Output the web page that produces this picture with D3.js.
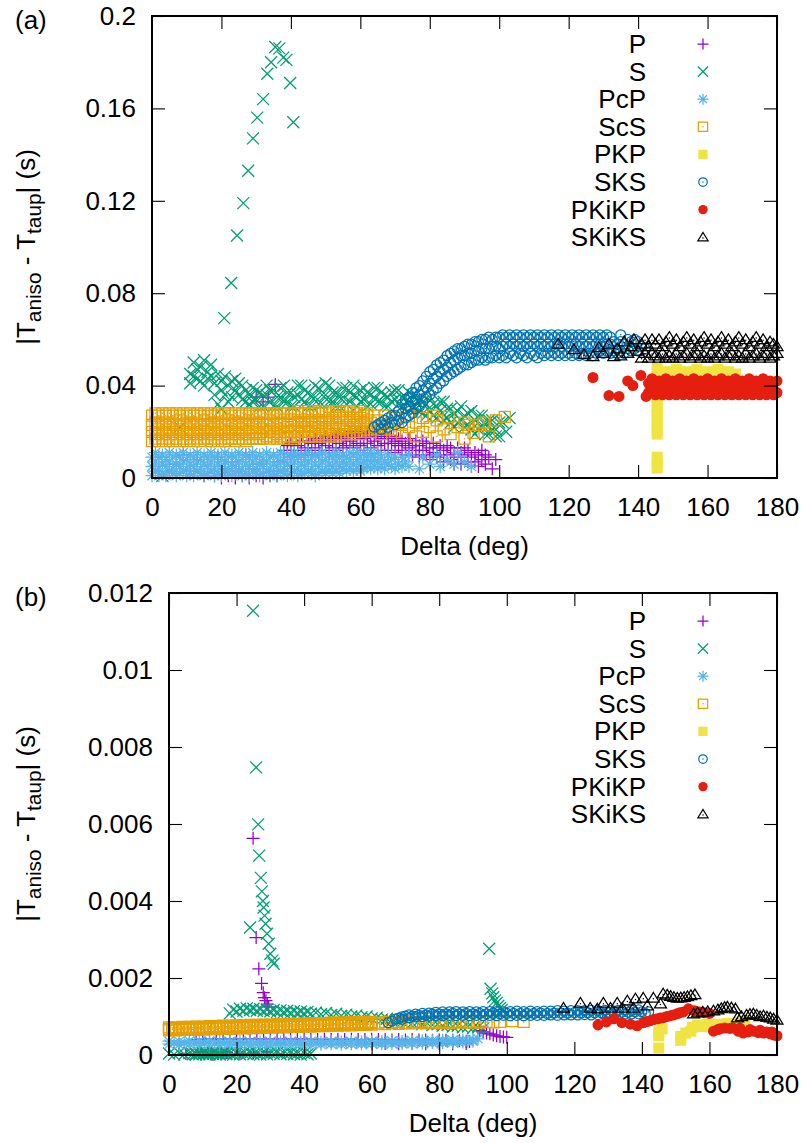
<!DOCTYPE html>
<html><head><meta charset="utf-8">
<script src="https://cdn.jsdelivr.net/npm/d3@7"></script>
<style>body{margin:0;background:#fff}svg{display:block}text{font-family:"Liberation Sans",Arial,Helvetica,sans-serif;white-space:pre}</style>
</head><body><svg id="c" width="807" height="1143"></svg>
<script>
// ---------- data (rows: [delta, value, value, ...]) ----------
const seriesNames = ["P","S","PcP","ScS","PKP","SKS","PKiKP","SKiKS"];
const xTicks = [0,20,40,60,80,100,120,140,160,180];
const xTickLabels = ["0","20","40","60","80","100","120","140","160","180"];
const yTicksA = [0,0.04,0.08,0.12,0.16,0.2];
const yTickLabelsA = ["0","0.04","0.08","0.12","0.16","0.2"];
const yTicksB = [0,0.002,0.004,0.006,0.008,0.01,0.012];
const yTickLabelsB = ["0","0.002","0.004","0.006","0.008","0.01","0.012"];

// ----- panel (a) -----
const P_a = [[1,.005],[3,.009],[5,.002],[7,.006],[9,.010],[11,.003],[13,.008],[15,.001],[16,.005],[18,.001],[19,.009],[20,0],[21,.004],[22,.001],[23,.007],[24,0],[25,.003],[26,.001],[27,.010],[28,0],[29,.004],[30,.001,.035],[31,.006],[32,0,.033],[33,.002],[33.5,.035],[34,.001],[35,.003],[35.5,.0405],[36,.001],[37,.007],
[38,.008,.012],[39,.011,.014],[40,.009,.015],[41,.012,.010],[42,.014,.009],[43,.011,.016],[44,.013,.010],[45,.016,.012],[46,.010,.015],[47,.013,.017],[48,.011,.015],[49,.016,.012],[50,.014,.018],[51,.011,.016],[52,.017,.013],[53,.012,.018],[54,.015,.019],[55,.013,.017],[56,.018,.014],[57,.016,.020],[58,.013,.018],[59,.019,.015],[60,.014,.020],[61,.017,.012],[62,.019,.015],[63,.013,.018],[64,.016,.020],[65,.014,.018],[66,.017,.012],[67,.019,.015],[68,.012,.017],[69,.015,.018],[70,.011,.016],[71,.014,.017],[72,.012,.016],[73,.015,.010],[74,.013,.017],[75,.010,.014],[76,.016,.012],[77,.009,.014],[78,.012,.016],[79,.010,.015],[80,.013,.008],[81,.011,.015],[82,.009,.013],[83,.014,.010],[84,.007,.012],[85,.010,.014],[86,.008,.013],[87,.011,.006],[88,.009,.013],[89,.006,.011],[90,.010,.013],[91,.007,.012],[92,.009,.005],[93,.011,.007],[94,.005,.010],[95,.008,.012],[96,.006,.010],[97,.009],[98,.004],[99,.008]];
const S_a = [[3,.001],[8,.022],[11,.045,.041],[12,.050,.044],[13,.043,.047],[14,.048,.042],[15,.051,.040],[16,.046,.043],[17,.044,.049],[18,.041,.036],[19,.045,.032],[20,.042,.030,.038],[21,.044,.036],[22,.040,.033],[23,.042,.035],[24,.038,.043],[25,.036,.041],[26,.040,.034],[27,.038,.033],[28,.036,.032],
[20.8,.0692],[22.8,.0844],[24.5,.105],[26.3,.119],[27.7,.133],[29.1,.147],[30.3,.156],[32,.164],[33.2,.175],[34.3,.180],[35.5,.1866],[36.7,.186],[37.8,.182],[38.7,.181],[39.8,.171],[40.7,.154],
[29,.039,.033],[30,.034,.038],[31,.037,.031],[32,.031,.036],[33,.036,.040],[34,.033,.038],[35,.038,.031],[36,.031,.035],[37,.035,.039],[38,.040,.033],[39,.033,.037],[40,.037,.031],[41,.031,.035],[42,.036,.040],[43,.040,.034],[44,.033,.038],[45,.037,.031],[46,.031,.035],[47,.035,.040],[48,.039,.032],[49,.032,.036],[50,.036,.041],[51,.040,.033],[52,.033,.037],[53,.037,.031],[54,.031,.035],[55,.035,.039],[56,.039,.032],[57,.033,.037],[58,.036,.040],[59,.031,.035],[60,.038,.033],[61,.034,.039],[62,.037,.031],[63,.032,.036],[64,.035,.039],[65,.039,.033],[66,.033,.037],[67,.036,.031],[68,.031,.035],[69,.037,.033],[70,.034,.038],[71,.038,.032],[72,.031,.035],[73,.035,.030],[74,.033,.037],[75,.036,.030],
[76,.030,.034],[77,.034,.029],[78,.028,.033],[79,.032,.027],[80,.035,.029],[81,.027,.032],[82,.031,.026],[83,.029,.033],[84,.033,.025],[85,.026,.030],[86,.030,.024],[87,.028,.022],[88,.024,.029],[89,.031,.025],[90,.027,.022],[91,.023,.028],[92,.029,.021],[93,.025,.019],[94,.021,.027],[95,.027,.023],[96,.023,.019],[97,.019,.025],[98,.025,.021],[99,.021,.018],[100,.018,.024],[101,.024],[102,.020],[103,.026]];
const PcP_a = [[0,.001,.005,.009],[1,.003,.007,.011],[2,.001,.004,.009],[3,.002,.006,.010],[4,.001,.005,.008],[5,.003,.007,.011],[6,.002,.004,.009],[7,.001,.006,.010],[8,.002,.005,.009],[9,.003,.007,.011],[10,.001,.004,.008],[11,.002,.006,.010],[12,.001,.005,.009],[13,.003,.007,.011],[14,.002,.004,.008],[15,.001,.006,.010],[16,.002,.005,.009],[17,.003,.007,.011],[18,.001,.004,.009],[19,.002,.006,.010],[20,.001,.005,.008],[21,.003,.007,.011],[22,.002,.004,.009],[23,.001,.006,.010],[24,.002,.005,.009],[25,.003,.007,.011],[26,.001,.004,.008],[27,.002,.006,.010],[28,.001,.005,.009],[29,.003,.007,.011],[30,.002,.004,.009],[31,.001,.006,.010],[32,.002,.005,.008],[33,.003,.007,.011],[34,.001,.004,.009],[35,.002,.006,.010],[36,.001,.005,.009],[37,.003,.007,.011],[38,.002,.004,.008],[39,.001,.006,.010],[40,.002,.005,.009],[41,.003,.007,.011],[42,.001,.004,.009],[43,.002,.006,.010],[44,.002,.005,.008],[45,.003,.007,.011],[46,.002,.004,.009],[47,.001,.006,.010],[48,.002,.005,.009],[49,.003,.007,.011],[50,.002,.004,.008],[51,.003,.006,.010],[52,.002,.005,.009],[53,.003,.007,.011],[54,.002,.005,.009],[55,.004,.007,.010],[56,.003,.006,.009],[57,.004,.008,.011],[58,.003,.006,.010],[59,.004,.008,.011],[60,.003,.006,.009],[61,.004,.007,.011],[62,.005,.008,.010],[63,.004,.007,.011],[64,.005,.008,.010],[65,.004,.007,.011],[66,.005,.009],[67,.004,.007],[68,.006,.010],[69,.005,.008],[70,.004,.009],[71,.006],[72,.005,.009],[73,.007],[74,.005,.010],[77,.004],[78,.009],[80,.006],[82,.010],[83,.005],[85,.008],[87,.006],[88,.011],[90,.007],[92,.005]];
const ScS_a = [[0,.016,.020,.023,.027],[1,.017,.019,.024,.028],[2,.016,.021,.024,.027],[3,.017,.020,.023,.028],[4,.016,.019,.024,.027],[5,.017,.021,.023,.028],[6,.016,.020,.024,.027],[7,.017,.019,.023,.028],[8,.016,.021,.025,.027],[9,.017,.020,.023,.028],[10,.016,.019,.024,.027],[11,.017,.021,.024,.028],[12,.016,.020,.023,.027],[13,.017,.019,.024,.028],[14,.016,.021,.023,.027],[15,.017,.020,.025,.028],[16,.017,.019,.023,.027],[17,.016,.021,.024,.028],[18,.017,.020,.024,.027],[19,.016,.019,.023,.028],[20,.017,.021,.024,.027],[21,.016,.020,.023,.028],[22,.017,.019,.025,.028],[23,.017,.021,.024,.027],[24,.016,.020,.023,.028],[25,.017,.019,.024,.027],[26,.017,.021,.024,.028],[27,.016,.020,.023,.028],[28,.017,.019,.025,.027],[29,.017,.021,.024,.028],[30,.017,.020,.023,.028],[31,.017,.019,.024,.027],[32,.017,.021,.024,.028],[33,.018,.020,.023,.028],[34,.017,.021,.025,.028],[35,.018,.020,.024,.027],[36,.017,.019,.023,.028],[37,.018,.021,.024,.028],[38,.017,.020,.025,.028],[39,.018,.022,.024,.028],[40,.018,.020,.023,.028],[41,.017,.021,.025,.028],[42,.018,.020,.024,.029],[43,.018,.022,.024,.028],[44,.018,.021,.025,.028],[45,.018,.020,.024,.029],[46,.018,.022,.025,.028],[47,.018,.021,.024,.029],[48,.019,.022,.025,.028],[49,.018,.021,.024,.029],[50,.019,.022,.025,.029],[51,.018,.021,.026,.028],[52,.019,.022,.025,.029],[53,.018,.023,.024,.029],[54,.019,.022,.026,.029],[55,.019,.021,.025,.029],[56,.019,.023,.026,.029],[57,.020,.022,.025,.029],[58,.019,.023,.026,.029],[59,.020,.022,.025,.028],[60,.019,.023,.026,.029],[61,.020,.024,.027],[62,.021,.025,.028],[63,.020,.024],[64,.022,.027],[65,.021,.025],[66,.019,.023],[67,.022,.027],[68,.021],[69,.024],[70,.020,.026],[72,.019,.023],[74,.022,.027],[76,.018,.024],[78,.020,.026],[80,.022],[81,.027],[82,.018,.025],[84,.021],[85.4,.0265],[86,.019],[88,.022],[90,.017,.024],[91.2,.023],[92.6,.0195],[94,.023],[95.5,.024],[97,.018],[99,.025],[101.6,.0265]];
const PKP_a = [[145.5,.0043,.0065,.009,.019,.021,.023,.025,.027,.029,.031,.033,.035,.037,.039,.041,.043,.045,.0475],[148,.046,.042],[150,.039],[151,.047,.043],[154,.046,.041],[157,.047,.043],[158,.038],[160,.046,.042],[163,.047,.043],[166,.046],[168,.045]];
const SKS_a = [[64,.022],[65,.023],[66,.021,.024],[67,.023,.025],[68,.022,.026],[69,.024,.027],[70,.023,.027],[71,.025,.029],[72,.024,.028,.032],[73,.026,.030,.034],[74,.027,.031,.035],[75,.028,.033,.037],[76,.030,.034,.039],[77,.031,.036,.040],[78,.033,.038,.042],[79,.035,.039,.044],[80,.036,.041,.046],[81,.038,.043,.047],[82,.039,.044,.049],[83,.041,.046,.050],[84,.042,.047,.051],[85,.044,.048,.053],[86,.045,.050,.054],[87,.046,.051,.055],[88,.047,.052,.056],[89,.048,.053,.056],[90,.049,.053,.057],[91,.049,.054,.058],[92,.050,.054,.058],[93,.051,.055,.059],[94,.051,.055,.059],[95,.052,.056,.060],[96,.051,.056,.060],[97,.052,.056,.061],[98,.052,.057,.060],[99,.053,.057,.061],[100,.052,.056,.061],[101,.053,.057,.062],[102,.052,.058,.061],[103,.054,.057,.062],[104,.053,.058,.061],[105,.052,.057,.062],[106,.054,.058,.061],[107,.053,.057,.062],[108,.052,.058,.061],[109,.054,.057,.062],[110,.053,.058,.061],[111,.052,.057,.062],[112,.054,.058,.061],[113,.053,.057,.062],[114,.054,.058,.061],[115,.053,.057,.062],[116,.054,.058,.061],[117,.053,.058,.062],[118,.054,.057,.061],[119,.053,.058,.062],[120,.054,.057,.061],[121,.053,.058,.062],[122,.054,.058,.061],[123,.053,.057,.062],[124,.054,.058,.061],[125,.053,.057,.062],[126,.054,.058,.061],[127,.053,.057,.062],[128,.054,.058,.061],[129,.055,.058,.062],[130,.054,.057,.061],[131,.055,.058,.062],[132,.054,.058,.061],[133,.055,.059],[134,.054,.058],[135,.055,.059,.062],[136,.054,.058],[137,.056,.060],[138,.055,.059],[139,.056,.060],[140,.055,.059],[141,.057],[142,.056]];
const PKiKP_a = [[127,.0435],[131.6,.0357],[134.5,.0353],[137,.042],[138.5,.040],[140.8,.0444],[142.3,.0353],[143,.037,.041],[144,.039,.043],[145,.036,.040],[146,.038,.042],[147,.036,.041],[148,.040,.043],[149,.036,.039],[150,.038,.042],[151,.036,.041],[152,.039,.043],[153,.036,.040],[154,.038,.042],[155,.036,.041],[156,.040,.043],[157,.036,.039],[158,.038,.042],[159,.036,.041],[160,.039,.043],[161,.036,.040],[162,.038,.042],[163,.036,.041],[164,.039,.043],[165,.036,.040],[166,.038,.042],[167,.036,.041],[168,.039,.043],[169,.036,.040],[170,.038,.042],[171,.036,.041],[172,.039,.043],[173,.036,.040],[174,.038,.042],[175,.036,.041],[176,.039,.043],[177,.036,.040],[178,.038,.042],[179,.036,.041],[180,.037,.042]];
const SKiKS_a = [[117,.058],[121.5,.0557],[124.4,.0535],[127,.0526],[128.7,.0566],[130,.054],[131.6,.058],[133,.0526],[134,.056],[135,.053],[136,.059],[137,.054],[138,.057],[138.8,.060],[140,.055],[141,.052,.058],[142,.054,.060],[143,.052,.057],[144,.054,.060],[145,.053,.058],[146,.052,.060],[147,.054,.057],[148,.052,.059],[149,.053,.061],[150,.052,.058],[151,.054,.060],[152,.052,.057],[153,.053,.059],[154,.054,.061],[155,.052,.058],[156,.053,.060],[157,.054,.057],[158,.052,.059],[159,.053,.061],[160,.052,.058],[161,.054,.060],[162,.052,.057],[163,.053,.059],[164,.054,.061],[165,.052,.058],[166,.053,.060],[167,.054,.057],[168,.052,.059],[169,.053,.061],[170,.052,.058],[171,.054,.060],[172,.052,.057],[173,.053,.059],[174,.054,.061],[175,.052,.058],[176,.053,.060],[177,.054,.057],[178,.052,.059],[179,.053,.058],[180,.054,.057]];

// ----- panel (b) -----
const P_b = [[5,.00004],[8,.0004],[9,.00008],[10,.00041],[12,.00042],[13,.00002],[14,.00041],[16,.00042],[17,.00006],[18,.00042],[20,.00041],[21,.00003],[22,.00042],[24,.00041],[24.9,.00563],[25,.00005],[25.8,.00305],[26,.00042],[26.6,.00224],[27.4,.00186],[27.9,.00162],[28,.00041],[28.3,.00149],[28.7,.00141],[29,.00008],[29.1,.00132],[29.5,.00125],[30,.00042],[32,.00041],[34,.00042],[36,.00041],[38,.00041],[40,.00042],[42,.00041],[44,.0004],[46,.00041],[48,.0004],[50,.00041],[52,.0004],[54,.00041],[56,.0004],[58,.0004],[60,.00041,.00029],[62,.0004],[64,.0004,.0003],[66,.00039],[68,.0004,.00029],[70,.00039],[72,.0004,.0003],[74,.00039],[76,.00039,.00029],[78,.00038],[80,.00039,.0003],[82,.00038],[84,.00038,.00029],[86,.00037],[88,.00036,.0003],[89,.00035],[92,.00063],[93,.0006],[94,.00057],[95,.00055],[96,.00052],[97,.0005],[98,.00048],[99,.00047],[100,.00046]];
const S_b = [[0,.00004],[1.5,.00001],[3,.00006],[4.5,.00002],[6,.00005],[7,.00002],[8,.00004,.00001],[9,.00006,.00002],[10,.00003,.00005],[11,.00001,.00006],[12,.00004,.00002],[13,.00006,.00003],[14,.00002,.00005],[15,.00004,.00001],[16,.00006,.00003],[17,.00002,.00005],[18,.00004,.00108],[19,.00001,.00118],[20,.00005,.00113],[21,.00002,.0012],[22,.00005,.00115],[23,.00003,.00121],[24,.00006,.00117,.00331],[24.9,.01154],[25,.00002,.0012],[25.8,.00747],[26,.00004,.00115],[26.4,.00599],[26.7,.00518],[27,.00001,.00119],[27.2,.0046],[27.5,.00425],[27.8,.0040],[28,.00005,.00383,.00114],[28.3,.00362],[28.6,.00341],[29,.00002,.00315,.00118],[29.5,.00289],[30,.00005,.00263,.00113],[30.6,.00245],[31,.00003,.00237,.00117],[32,.00006,.00112],[33,.00002,.00116],[34,.00005,.00111],[35,.00003,.00115],[36,.00006,.0011],[37,.00002,.00114],[38,.00004,.00109],[39,.00001,.00113],[40,.00005,.00108],[41,.00002,.00112],[42,.00004,.00107],[43.5,.0011],[45,.00106],[46.5,.00109],[48,.00104],[49.5,.00107],[51,.00102],[52.5,.00105],[54,.001],[55.5,.00103],[57,.00098],[58.5,.001],[60,.00095],[61.5,.00097],[63,.00092],[64.5,.00094],[66,.00089],[67.5,.00091],[69,.00086],[70.5,.00088],[72,.00083],[73.5,.00085],[75,.0008],[76.5,.00082],[78,.00078],[79.5,.0008],[81,.00076],[82.5,.00078],[84,.00074],[85.5,.00076],[87,.00072],[88.5,.00074],[90,.0007],[91.5,.00072],[93,.00069],[94.8,.00276],[95.2,.00172],[95.7,.0016],[96,.0015],[96.5,.00142],[97,.00135],[97.5,.00128],[98,.00122],[98.5,.00117]];
const PcP_b = [[0,.00028,.00036],[1.5,.00031],[3,.00027,.00035],[4.5,.00032],[6,.00029,.00036],[7.5,.00031],[9,.00028,.00035],[10.5,.00032],[12,.00029,.00036],[13.5,.00031],[15,.00028,.00035],[16.5,.00032],[18,.00029,.00035],[19.5,.00031],[21,.00028,.00035],[22.5,.00032],[24,.00029,.00035],[25.5,.00031],[27,.00028,.00034],[28.5,.00032],[30,.00029,.00035],[31.5,.00031],[33,.00028,.00034],[34.5,.00031],[36,.00029,.00035],[37.5,.00031],[39,.00028,.00034],[40.5,.00031],[42,.00029,.00035],[43.5,.00031],[45,.00028,.00034],[46.5,.00031],[48,.00029,.00035],[49.5,.00031],[51,.00028,.00034],[52.5,.00031],[54,.00029,.00035],[55.5,.00031],[57,.00029,.00034],[58.5,.00031],[60,.0003,.00035],[61.5,.00032],[63,.00029,.00035],[64.5,.00032],[66,.0003,.00036],[67.5,.00032],[69,.0003,.00036],[70.5,.00033],[72,.0003,.00036],[73.5,.00033],[75,.00031,.00037],[76.5,.00034],[78,.00032,.00037],[79.5,.00034],[81,.00032,.00038],[82.5,.00035],[84,.00033,.00038],[85.5,.00035],[87,.00034,.00039],[88.5,.00036],[90,.00036,.0004],[91.5,.00042]];
const ScS_b = [[0,.00064,.00068,.00072],[1,.00066,.0007],[2,.00064,.00068,.00072],[3,.00066,.0007],[4,.00065,.00069,.00073],[5,.00067,.00071],[6,.00065,.00069,.00073],[7,.00067,.00071],[8,.00066,.0007,.00074],[9,.00068,.00072],[10,.00066,.0007,.00074],[11,.00068,.00072],[12,.00067,.00071,.00075],[13,.00069,.00073],[14,.00067,.00071,.00075],[15,.00069,.00073],[16,.00068,.00072,.00076],[17,.0007,.00074],[18,.00068,.00072,.00076],[19,.0007,.00074],[20,.00069,.00073,.00077],[21,.00071,.00075],[22,.00069,.00073,.00077],[23,.00071,.00075],[24,.0007,.00074,.00078],[25,.00072,.00076],[26,.0007,.00074,.00078],[27,.00072,.00076],[28,.00071,.00075,.00079],[29,.00073,.00077],[30,.00071,.00075,.00079],[31,.00073,.00077],[32,.00072,.00076,.0008],[33,.00074,.00078],[34,.00072,.00076,.0008],[35,.00074,.00078],[36,.00073,.00077,.00081],[37,.00075,.00079],[38,.00073,.00077,.00081],[39,.00075,.00079],[40,.00074,.00078,.00082],[41,.00076,.0008],[42,.00074,.00078,.00082],[43,.00076,.0008],[44,.00075,.00079,.00083],[45,.00077,.00081],[46,.00075,.00079,.00083],[47,.00077,.00081],[48,.00076,.0008,.00084],[49,.00078,.00082],[50,.00076,.0008,.00084],[51,.00078,.00082],[52,.00077,.00081,.00085],[53,.00079,.00083],[54,.00077,.00081,.00085],[55,.00079,.00083],[56,.00078,.00082,.00085],[57,.0008,.00084],[58,.00078,.00082,.00086],[59,.0008,.00084],[60,.00079,.00083,.00086],[62,.00082],[64,.0008,.00086],[66,.00083],[68,.00081,.00086],[70,.00083],[72,.00082,.00086],[74,.00084],[76,.00082,.00087],[78,.00084],[80,.00083,.00087],[82,.00085],[84,.00083,.00087],[86,.00085],[88,.00084,.00087],[90,.00085],[92,.00084,.00087],[94,.00086],[96,.00085],[98,.00086],[101.6,.00088],[105,.00086]];
const PKP_b = [[145,.00018,.0005,.0006],[146,.00068],[151.5,.00038,.00048],[153,.00057],[154.5,.00062],[155,.00072],[156.5,.00078],[158,.00074],[159.5,.0008],[161,.00076],[162.5,.0008],[164,.00078],[165.5,.00082],[167,.0008],[169,.00085],[170.5,.00088]];
const SKS_b = [[64.9,.00084],[66,.00088],[67,.00093],[68,.00096],[69,.00093,.00099],[70,.00101],[71,.00097,.00104],[72,.00101],[73,.00099,.00106],[74,.00103],[75,.001,.00108],[76,.00104],[77,.00101,.00109],[78,.00106],[79,.00102,.00111],[80,.00107],[81,.00102,.00112],[82,.00107],[83,.00103,.00112],[84,.00108],[85,.00102,.00113],[86,.00107],[87,.00103,.00112],[88,.00108],[89,.00102,.00113],[90,.00107],[91,.00103,.00112],[92,.00108],[93,.00102,.00113],[94,.00107],[95,.00103,.00113],[96,.00108],[97,.00102,.00113],[98,.00107],[99,.00103,.00112],[100,.00108],[101,.00102,.00113],[102,.00108],[103,.00103,.00114],[104,.00108],[105,.00102,.00113],[106,.00108],[107,.00103,.00114],[108,.00108],[109,.00103,.00113],[110,.00109],[111,.00103,.00114],[112,.00108],[113,.00104,.00114],[114,.00109],[115,.00103,.00115],[116,.00109],[117,.00104,.00114],[118,.00109],[119,.00104,.00115],[120,.0011],[121,.00104,.00115],[122,.00109],[123,.00105,.00115],[124,.0011],[125,.00104,.00116],[126,.0011],[127,.00105,.00115],[128,.0011],[129,.00105,.00116],[130,.00111],[131,.00105,.00116],[132,.0011],[133,.00106,.00116],[134,.00111],[135,.00106,.00117],[136,.00111],[137,.00107,.00116],[138,.00112],[139,.00107,.00117],[140,.00112],[141,.00108],[142,.00112]];
const PKiKP_b = [[127,.00078],[129.5,.00086],[131.7,.00094],[134.1,.00084],[136.6,.0008],[138.6,.00076],[140.5,.00084],[141.5,.00087],[142.5,.00089],[143.5,.00092],[144.6,.00094],[145.5,.00096],[146.4,.00097],[147.4,.001],[148.4,.00102],[149.4,.00104],[150.4,.00107],[151.3,.0011],[152.3,.00112],[153.8,.0012],[155.5,.00115],[157,.00112],[158.5,.0011],[160,.00108],[161.2,.00062],[162.5,.00066],[163.2,.00068],[164.5,.0007],[166,.00069],[167,.0007],[168.5,.00062],[169,.0007],[170,.00057],[171.5,.0006],[172,.00066],[173,.00062],[174.5,.00058],[175,.00064],[176,.00057],[177,.0006],[178,.00055],[178.5,.0006],[179,.00052],[180,.0005]];
const SKiKS_b = [[116.8,.00122],[121.8,.00135],[124.7,.00122],[126.8,.0012],[128.6,.00135],[130.7,.00122],[132.7,.00135],[134.2,.00122],[135.7,.00141],[137.5,.00122],[138.1,.00146],[140.4,.00148],[141.6,.00128],[143.4,.00148],[145.5,.00133],[146.3,.00159],[147.5,.00156],[148.5,.00153],[149.5,.0015],[150.5,.00148],[151.5,.00149],[152.5,.0015],[153.5,.00152],[154.5,.00155],[155.7,.00157],[155.3,.00107],[156.5,.0011],[158,.00112],[159.5,.00113],[161.2,.00115],[162.5,.00118],[163.5,.00121],[164.5,.00124],[165.3,.00125],[166.5,.00123],[167.7,.0012],[168.3,.00097],[169.5,.001],[171,.00104],[172,.00106],[173,.00107],[174,.00104],[175,.001],[176,.00102],[177,.00099],[178,.00097],[179,.00094],[180,.00091]];

// ---------- styling ----------
const colors = {P:"#9400d3",S:"#009e73",PcP:"#56b4e9",ScS:"#e69f00",PKP:"#f0e442",SKS:"#0072b2",PKiKP:"#e51e10",SKiKS:"#000000"};
const shapes = {P:"plus",S:"cross",PcP:"star",ScS:"sqOpen",PKP:"sqFill",SKS:"circOpen",PKiKP:"circFill",SKiKS:"tri"};
const FONT = 26;

function markerPath(t, k){
  const f = v => (v*k).toFixed(2);
  switch(t){
    case "plus": return `M${f(-6.5)},0H${f(6.5)}M0,${f(-6.5)}V${f(6.5)}`;
    case "cross": return `M${f(-6)},${f(-6)}L${f(6)},${f(6)}M${f(-6)},${f(6)}L${f(6)},${f(-6)}`;
    case "star": return `M${f(-6.5)},0H${f(6.5)}M0,${f(-6.5)}V${f(6.5)}M${f(-4.6)},${f(-4.6)}L${f(4.6)},${f(4.6)}M${f(-4.6)},${f(4.6)}L${f(4.6)},${f(-4.6)}`;
    case "sqOpen": case "sqFill": return `M${f(-5.5)},${f(-5.5)}H${f(5.5)}V${f(5.5)}H${f(-5.5)}Z`;
    case "circOpen": return `M${f(5)},0A${f(5)},${f(5)} 0 1,1 ${f(-5)},0A${f(5)},${f(5)} 0 1,1 ${f(5)},0Z`;
    case "circFill": return `M${f(5.5)},0A${f(5.5)},${f(5.5)} 0 1,1 ${f(-5.5)},0A${f(5.5)},${f(5.5)} 0 1,1 ${f(5.5)},0Z`;
    case "tri": return `M0,${f(-5.5)}L${f(6)},${f(4.2)}L${f(-6)},${f(4.2)}Z`;
  }
}
function drawMarker(g, name, cx, cy, k){
  const t = shapes[name], c = colors[name];
  const filled = (t==="sqFill"||t==="circFill");
  g.append("path").attr("d", markerPath(t,k)).attr("transform",`translate(${cx.toFixed(2)},${cy.toFixed(2)})`)
    .attr("fill", filled ? c : "none").attr("stroke", filled ? "none" : c).attr("stroke-width", 1.25);
  if (t==="sqOpen"||t==="circOpen"||t==="tri") {
    g.append("circle").attr("cx",cx).attr("cy",cy+(t==="tri"?0.8:0)).attr("r",0.75).attr("fill",c);
  }
}
function flatten(rows){ const out=[]; rows.forEach(r=>{ for(let i=1;i<r.length;i++) out.push([r[0], r[i]]); }); return out; }

const panels = [
  {label:"(a)", left:152, right:777, top:16, bottom:478, yMax:0.2, yTicks:yTicksA, yLabels:yTickLabelsA,
   data:{P:P_a,S:S_a,PcP:PcP_a,ScS:ScS_a,PKP:PKP_a,SKS:SKS_a,PKiKP:PKiKP_a,SKiKS:SKiKS_a}},
  {label:"(b)", left:169, right:777, top:593, bottom:1055, yMax:0.012, yTicks:yTicksB, yLabels:yTickLabelsB,
   data:{P:P_b,S:S_b,PcP:PcP_b,ScS:ScS_b,PKP:PKP_b,SKS:SKS_b,PKiKP:PKiKP_b,SKiKS:SKiKS_b}}
];

const svg = d3.select("#c");
svg.append("rect").attr("width",807).attr("height",1143).attr("fill","#fff");

panels.forEach(p => {
  const x = d3.scaleLinear().domain([0,180]).range([p.left,p.right]);
  const y = d3.scaleLinear().domain([0,p.yMax]).range([p.bottom,p.top]);
  const gp = svg.append("g");
  seriesNames.forEach(n => {
    const g = gp.append("g");
    flatten(p.data[n]).forEach(d => drawMarker(g, n, x(d[0]), y(d[1]), 1));
  });

  const styleAxis = sel => {
    sel.select(".domain").remove();
    sel.selectAll(".tick line").attr("stroke","#000").attr("stroke-width",1.1);
    sel.selectAll("text").attr("font-size",FONT).attr("fill","#000")
      .attr("font-family","'Liberation Sans',Arial,Helvetica,sans-serif");
  };
  svg.append("g").attr("transform",`translate(0,${p.bottom})`)
    .call(d3.axisBottom(x).tickValues(xTicks).tickFormat((d,i)=>xTickLabels[i]).tickSize(-13).tickPadding(19.5)).call(styleAxis);
  svg.append("g").attr("transform",`translate(0,${p.top})`)
    .call(d3.axisTop(x).tickValues(xTicks).tickFormat("").tickSize(-13)).call(styleAxis);
  svg.append("g").attr("transform",`translate(${p.left},0)`)
    .call(d3.axisLeft(y).tickValues(p.yTicks).tickFormat((d,i)=>p.yLabels[i]).tickSize(-13).tickPadding(16)).call(styleAxis);
  svg.append("g").attr("transform",`translate(${p.right},0)`)
    .call(d3.axisRight(y).tickValues(p.yTicks).tickFormat("").tickSize(-13)).call(styleAxis);

  svg.append("rect").attr("x",p.left).attr("y",p.top).attr("width",p.right-p.left).attr("height",p.bottom-p.top)
    .attr("fill","none").attr("stroke","#000").attr("stroke-width",2);

  // legend
  seriesNames.forEach((n,i) => {
    const cy = p.top + 28 + i*27.6;
    svg.append("text").attr("x",646).attr("y",cy+9).attr("text-anchor","end").attr("font-size",FONT).attr("fill","#000").text(n);
    drawMarker(svg.append("g"), n, 703, cy, 0.85);
  });

  // axis titles
  svg.append("text").attr("x",(p.left+p.right)/2).attr("y",p.bottom+77).attr("text-anchor","middle")
    .attr("font-size",FONT).text("Delta (deg)");
  const yl = svg.append("text").attr("transform",`translate(35,${(p.top+p.bottom)/2}) rotate(-90)`)
    .attr("text-anchor","middle").attr("font-size",FONT);
  yl.append("tspan").text("|T");
  yl.append("tspan").attr("font-size",FONT*0.8).attr("dy",6).text("aniso");
  yl.append("tspan").attr("dy",-6).text(" - T");
  yl.append("tspan").attr("font-size",FONT*0.8).attr("dy",6).text("taup");
  yl.append("tspan").attr("dy",-6).text("| (s)");

  svg.append("text").attr("x",15).attr("y",p.top+13).attr("font-size",FONT).text(p.label);
});
</script></body></html>
